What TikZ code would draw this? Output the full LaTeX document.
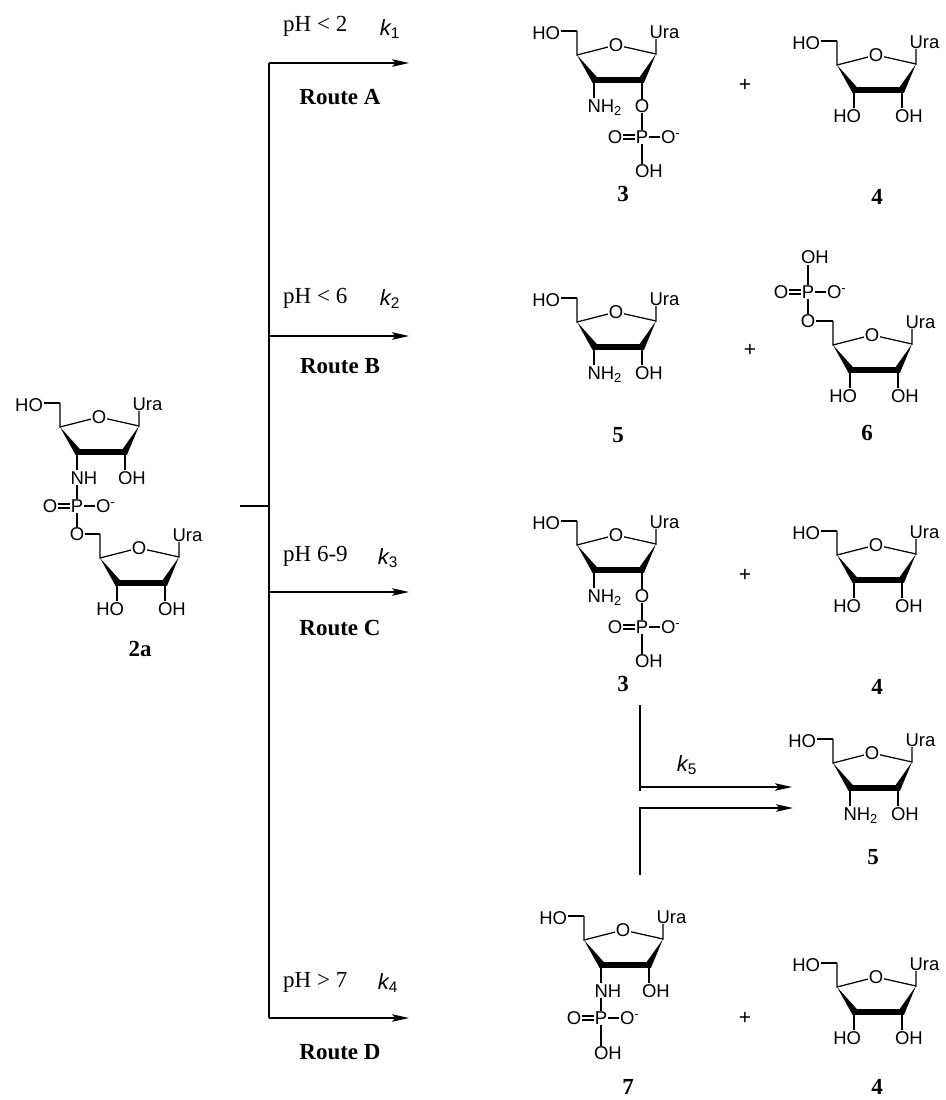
\documentclass[tikz,border=0pt]{standalone}
\usepackage{fontspec}
\setmainfont{Liberation Serif}
\setsansfont{Liberation Sans}
\usetikzlibrary{arrows.meta,calc}

\newcommand\atomfont{\fontsize{18.5}{18.5}\sffamily}
\newcommand\condfont{\fontsize{23}{23}\selectfont}
\newcommand\cmpdfont{\fontsize{23}{23}\selectfont\bfseries}
\newcommand\ratefont{\fontsize{22}{22}\sffamily\itshape}

% furanose ring, #1 name, (#2,#3) = C4'
\newcommand\ribose[3]{%
  \begin{scope}[shift={(#2,#3)}]
    \coordinate (#1c4) at (0,0);
    \coordinate (#1c5) at (0,-24);
    \coordinate (#1c1) at (79,-1);
    \coordinate (#1c2) at (65,25);
    \coordinate (#1c3) at (17,25);
    \coordinate (#1ura) at (79,-17);
    \draw[bond] (#1c5) -- (#1c4) -- (39,-10) -- (#1c1) -- (#1ura);
    \fill (#1c4) -- (15.5,27.8) -- (67,27.8) -- (#1c1) -- (62.5,22.2) -- (20,22.2) -- cycle;
    \node[atom] (#1o) at (39,-10) {O};
    \node[atom, anchor=base west] (#1u) at (71.5,-17) {Ura};
  \end{scope}}
\newcommand\hofive[1]{\draw[bond] (#1c5) -- ++(-18,0);
  \node[atom, anchor=base east] (#1ho5) at ($(#1c5)+(-16,8.5)$) {HO};}
\newcommand\hothree[1]{\draw[bond] (#1c3) -- ++(0,19);
  \node[atom, anchor=base east] (#1ho3) at ($(#1c3)+(8,32)$) {HO};}
\newcommand\ohtwo[1]{\draw[bond] (#1c2) -- ++(0,19);
  \node[atom, anchor=base west] (#1oh2) at ($(#1c2)+(-8,32)$) {OH};}
\newcommand\nhthree[2]{\draw[bond] (#1c3) -- ++(0,19);
  \node[atom, anchor=base west] (#1n3) at ($(#1c3)+(-7.5,32)$) {#2};}
% phosphate round the coordinate #1
\newcommand\phos[1]{%
  \draw[bond] ($(#1)+(-27,-2)$) -- ($(#1)+(0,-2)$) ($(#1)+(-27,2)$) -- ($(#1)+(0,2)$) (#1) -- ++(26,0);
  \node[atom] (#1p) at (#1) {P};
  \node[atom] (#1oa) at ($(#1)+(-27,0)$) {O};
  \node[atom, anchor=base west] (#1ob) at ($(#1)+(18,6.6)$) {O\textsuperscript{-}};}

\begin{document}
\begin{tikzpicture}[x=1pt, y=-1pt,
  bond/.style={line width=1.25pt},
  line/.style={line width=1.3pt},
  atom/.style={fill=white, inner sep=0.8pt, font=\atomfont},
  arr/.style={line width=1.3pt, -{Stealth[length=17pt,width=7.5pt,inset=3.5pt]}},
  cond/.style={font=\condfont, anchor=west, inner sep=0pt},
  route/.style={font=\condfont\bfseries, inner sep=0pt},
  rate/.style={font=\ratefont, inner sep=0pt},
  cmpd/.style={font=\cmpdfont, inner sep=0pt},
  plus/.style={font=\fontsize{21}{21}\sffamily, inner sep=0pt}]
\useasboundingbox (0,0) rectangle (945,1100);

% 2a
\ribose{ua}{60}{427}
\ribose{la}{100}{558}
\coordinate (pa) at (77,506);
\coordinate (pao) at (77,534);
\draw[bond] (uac3) -- (pa) -- (pao) -- (lac5);
\hofive{ua}
\ohtwo{ua}
\hothree{la}
\ohtwo{la}
\node[atom, anchor=base west] (uanh) at ($(uac3)+(-7.5,32)$) {NH};
\phos{pa}
\node[atom] (paob) at (pao) {O};
\node[cmpd] (c2a) at (140,649) {2a};

% scheme lines
\coordinate (stem) at (240,506);
\coordinate (fork) at (269,506);
\coordinate (ra) at (269,63);
\coordinate (rb) at (269,336);
\coordinate (rc) at (269,592);
\coordinate (rd) at (269,1018);
\coordinate (ea) at (409,63);
\coordinate (eb) at (409,336);
\coordinate (ec) at (409,592);
\coordinate (ed) at (409,1018);
\draw[line] (stem) -- (fork);
\draw[line] (ra) -- (rd);
\draw[arr] (ra) -- (ea);
\draw[arr] (rb) -- (eb);
\draw[arr] (rc) -- (ec);
\draw[arr] (rd) -- (ed);

\node[cond] (pha) at (283,26) {pH < 2};
\node[cond] (phb) at (283,298) {pH < 6};
\node[cond] (phc) at (283,556) {pH 6-9};
\node[cond] (phd) at (283,982) {pH > 7};
\node[rate] (ka) at (390,29) {k\textsubscript{\upshape 1}};
\node[rate] (kb) at (390,299) {k\textsubscript{\upshape 2}};
\node[rate] (kc) at (388,558) {k\textsubscript{\upshape 3}};
\node[rate] (kd) at (388,983) {k\textsubscript{\upshape 4}};
\node[route] (routea) at (340,97) {Route A};
\node[route] (routeb) at (340,366) {Route B};
\node[route] (routec) at (340,628) {Route C};
\node[route] (routed) at (340,1052) {Route D};

% route A
\ribose{ta}{577}{55}
\coordinate (pb) at (642,137);
\coordinate (tao) at (642,106);
\coordinate (pboh) at (642,171);
\draw[bond] (tac2) -- (pb) -- (pboh);
\hofive{ta}
\nhthree{ta}{NH\textsubscript{2}}
\node[atom] (taob) at (tao) {O};
\phos{pb}
\node[atom, anchor=base west] (pbh) at ($(pboh)+(-8,6.6)$) {OH};
\node[cmpd] (c3a) at (623,194) {3};
\node[plus] (plusa) at (745,85) {+};
\ribose{tb}{837}{65}
\hofive{tb}
\hothree{tb}
\ohtwo{tb}
\node[cmpd] (c4a) at (877,197) {4};

% route B
\ribose{bb}{577}{322}
\hofive{bb}
\nhthree{bb}{NH\textsubscript{2}}
\ohtwo{bb}
\node[cmpd] (c5a) at (618,435) {5};
\node[plus] (plusb) at (750,350) {+};
\ribose{bc}{833}{345}
\coordinate (pc) at (808,292);
\coordinate (pco) at (808,321);
\coordinate (pcoh) at (808,257);
\draw[bond] (pcoh) -- (pc) -- (pco) -- (bcc5);
\hothree{bc}
\ohtwo{bc}
\phos{pc}
\node[atom] (pcob) at (pco) {O};
\node[atom, anchor=base west] (pch) at ($(pcoh)+(-8,6.6)$) {OH};
\node[cmpd] (c6) at (867,433) {6};

% route C
\ribose{ca}{577}{545}
\coordinate (pd) at (642,627);
\coordinate (cao) at (642,596);
\coordinate (pdoh) at (642,661);
\draw[bond] (cac2) -- (pd) -- (pdoh);
\hofive{ca}
\nhthree{ca}{NH\textsubscript{2}}
\node[atom] (caob) at (cao) {O};
\phos{pd}
\node[atom, anchor=base west] (pdh) at ($(pdoh)+(-8,6.6)$) {OH};
\node[cmpd] (c3b) at (623,684) {3};
\node[plus] (plusc) at (745,575) {+};
\ribose{cb}{837}{555}
\hofive{cb}
\hothree{cb}
\ohtwo{cb}
\node[cmpd] (c4b) at (877,687) {4};

% k5
\coordinate (ka1) at (640,705);
\coordinate (ka2) at (640,791);
\coordinate (ja) at (640,787);
\coordinate (ea5) at (792,787);
\coordinate (kb1) at (640,875);
\coordinate (kb2) at (640,808);
\coordinate (eb5) at (793,808);
\draw[line] (ka1) -- (ka2);
\draw[arr] (ja) -- (ea5);
\draw[arr] (kb1) -- (kb2) -- (eb5);
\node[rate] (ke) at (687,765) {k\textsubscript{\upshape 5}};
\ribose{kc}{833}{763}
\hofive{kc}
\nhthree{kc}{NH\textsubscript{2}}
\ohtwo{kc}
\node[cmpd] (c5b) at (873,857) {5};

% route D
\ribose{da}{584}{940}
\coordinate (pe) at (601,1018);
\coordinate (peoh) at (601,1053);
\draw[bond] (dac3) -- (pe) -- (peoh);
\hofive{da}
\ohtwo{da}
\node[atom, anchor=base west] (danh) at ($(dac3)+(-7.5,32)$) {NH};
\phos{pe}
\node[atom, anchor=base west] (peh) at ($(peoh)+(-8,6.6)$) {OH};
\node[cmpd] (c7) at (628,1087) {7};
\node[plus] (plusd) at (745,1018) {+};
\ribose{db}{837}{987}
\hofive{db}
\hothree{db}
\ohtwo{db}
\node[cmpd] (c4c) at (877,1087) {4};
\end{tikzpicture}
\end{document}
